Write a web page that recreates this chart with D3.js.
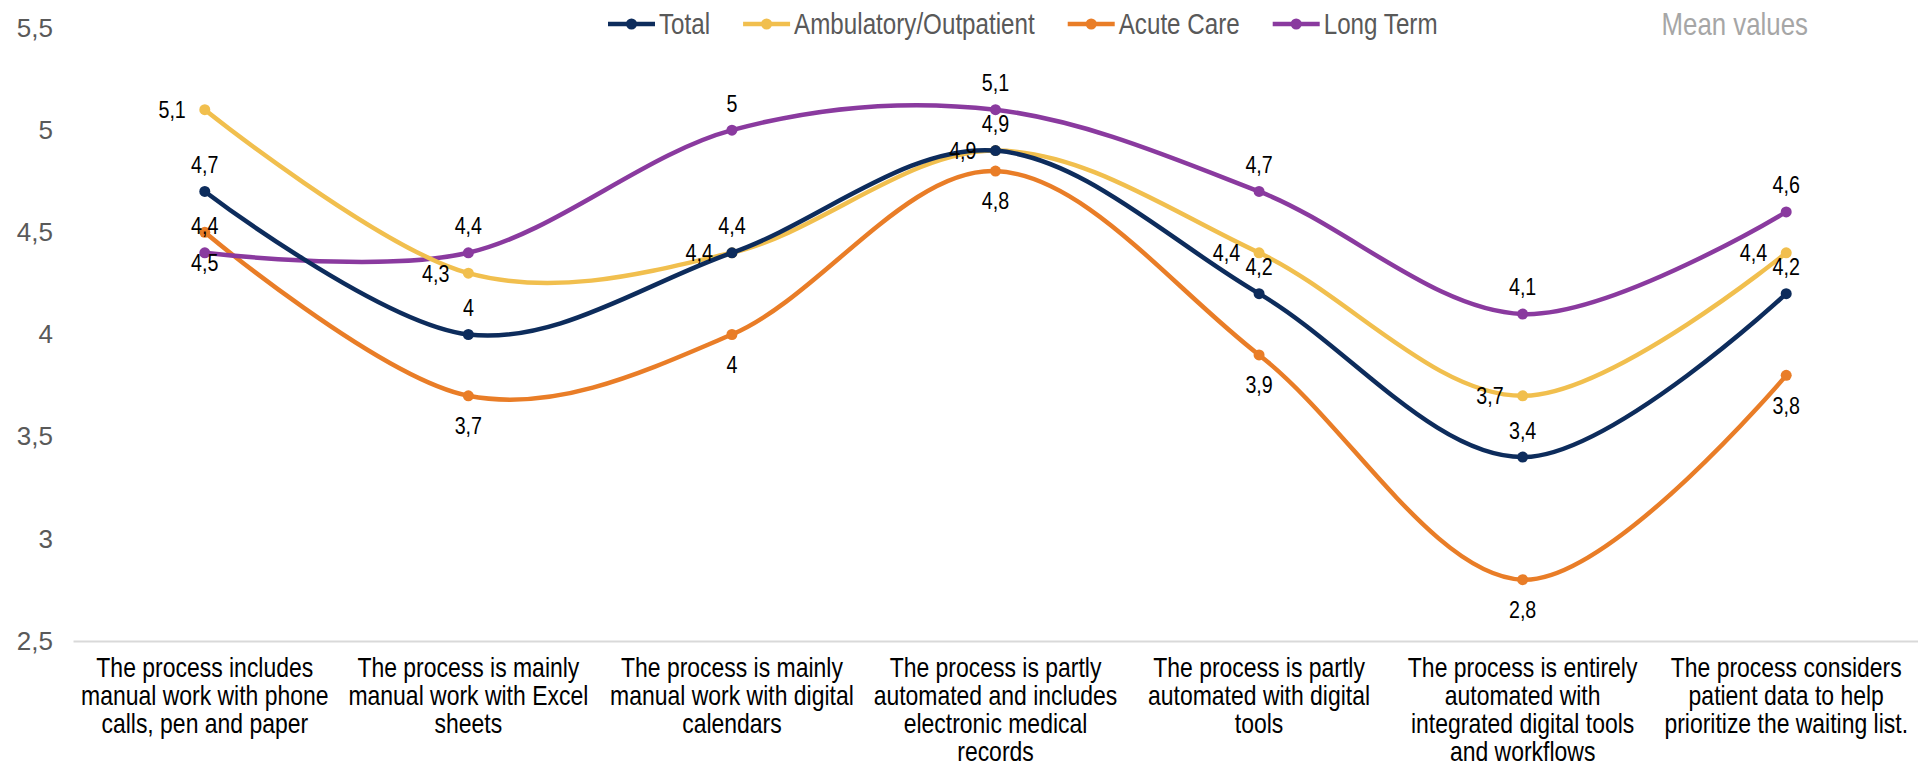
<!DOCTYPE html>
<html>
<head>
<meta charset="utf-8">
<script src="https://cdn.jsdelivr.net/npm/d3@7"></script>
<style>
    body { margin: 0; background: #fff; }
    svg { display: block; }
    text { font-family: "Liberation Sans", Arial, sans-serif; }
</style>
</head>
<body>
<div id="chart"></div>
<script>
var categories = [
    "The process includes\nmanual work with phone\ncalls, pen and paper",
    "The process is mainly\nmanual work with Excel\nsheets",
    "The process is mainly\nmanual work with digital\ncalendars",
    "The process is partly\nautomated and includes\nelectronic medical\nrecords",
    "The process is partly\nautomated with digital\ntools",
    "The process is entirely\nautomated with\nintegrated digital tools\nand workflows",
    "The process considers\npatient data to help\nprioritize the waiting list."
];

var seriesNames = ["Total", "Ambulatory/Outpatient", "Acute Care", "Long Term"];

var totalValues      = [4.7, 4.0, 4.4, 4.9, 4.2, 3.4, 4.2];
var ambulatoryValues = [5.1, 4.3, 4.4, 4.9, 4.4, 3.7, 4.4];
var acuteValues      = [4.5, 3.7, 4.0, 4.8, 3.9, 2.8, 3.8];
var longTermValues   = [4.4, 4.4, 5.0, 5.1, 4.7, 4.1, 4.6];

var yTicks = [2.5, 3, 3.5, 4, 4.5, 5, 5.5];

var seriesColors = ["#0d2c5c", "#f1bf4e", "#e97d27", "#8a3a9f"];
// where each series puts its value labels
var labelPlace = ["above", "left", "below", "above"];

var series = [totalValues, ambulatoryValues, acuteValues, longTermValues].map(function(v, i){
    return {name: seriesNames[i], values: v, color: seriesColors[i], place: labelPlace[i]};
});

var W = 1918, H = 764;
// no narrow font installed, so squeeze regular sans horizontally
var NARROW = 0.82;

var svg = d3.select("#chart").append("svg")
    .attr("width", W)
    .attr("height", H);

var x = d3.scaleBand()
    .domain(d3.range(categories.length))
    .range([73, 1918]);

var y = d3.scaleLinear()
    .domain([2.5, 5.5])
    .range([641, 28]);

var fmt = function(v){ return String(+v.toFixed(1)).replace(".", ","); };

// narrow text group placed at (px,py)
function narrowGroup(parent, px, py)
{
    return parent.append("g")
        .attr("transform", "translate(" + px + "," + py + ") scale(" + NARROW + ",1)");
}

// y axis, labels only
var yAxis = svg.append("g")
    .attr("transform", "translate(53,0)")
    .call(d3.axisLeft(y).tickValues(yTicks).tickSize(0).tickPadding(0).tickFormat(fmt));
yAxis.select(".domain").remove();
yAxis.selectAll("text")
    .attr("fill", "#595959")
    .style("font-family", "'Liberation Sans', Arial, sans-serif")
    .style("font-size", "26px");

// x axis line
var xAxis = svg.append("g")
    .attr("transform", "translate(0," + y(2.5) + ")")
    .call(d3.axisBottom(x).tickSize(0).tickFormat(""));
xAxis.select(".domain")
    .attr("stroke", "#d9d9d9")
    .attr("stroke-width", 2);

// category labels, pre-wrapped
var cx = function(i){ return x(i) + x.bandwidth() / 2; };
var catG = svg.append("g");
categories.forEach(function(d, i){
    var t = narrowGroup(catG, cx(i), 677).append("text")
        .attr("text-anchor", "middle")
        .attr("fill", "#000")
        .style("font-size", "28px");
    d.split("\n").forEach(function(line, k){
        t.append("tspan")
            .attr("x", 0)
            .attr("y", k * 28)
            .text(line);
    });
});

var line = d3.line()
    .x(function(d, i){ return cx(i); })
    .y(function(d){ return y(d); })
    .curve(d3.curveCardinal.tension(0));

var order = [2, 3, 1, 0];
order.forEach(function(si){
    var s = series[si];
    var g = svg.append("g");
    g.append("path")
        .datum(s.values)
        .attr("fill", "none")
        .attr("stroke", s.color)
        .attr("stroke-width", 4.5)
        .attr("d", line);
    g.selectAll("circle")
        .data(s.values)
        .enter().append("circle")
        .attr("cx", function(d, i){ return cx(i); })
        .attr("cy", function(d){ return y(d); })
        .attr("r", 5.5)
        .attr("fill", s.color);
});

// value labels
var labG = svg.append("g");
series.forEach(function(s){
    s.values.forEach(function(v, i){
        var px = s.place == "left" ? cx(i) - 19 : cx(i);
        var py = y(v);
        if(s.place == "above") py -= 27;
        if(s.place == "below") py += 30;
        narrowGroup(labG, px, py).append("text")
            .attr("dy", "0.35em")
            .attr("text-anchor", s.place == "left" ? "end" : "middle")
            .attr("fill", "#000")
            .style("font-size", "24px")
            .text(fmt(v));
    });
});

// legend
var legend = svg.append("g");
var lx = 608;
series.forEach(function(s){
    var item = legend.append("g").attr("transform", "translate(" + lx + ",24)");
    item.append("line")
        .attr("x1", 0).attr("x2", 47)
        .attr("stroke", s.color)
        .attr("stroke-width", 4.5);
    item.append("circle")
        .attr("cx", 23.5)
        .attr("r", 5.5)
        .attr("fill", s.color);
    var txt = narrowGroup(item, 51, 0).append("text")
        .attr("dy", "0.35em")
        .attr("fill", "#595959")
        .style("font-size", "29.5px")
        .text(s.name);
    lx += 51 + txt.node().getComputedTextLength() * NARROW + 33;
});

narrowGroup(svg, 1808, 24).append("text")
    .attr("dy", "0.35em")
    .attr("text-anchor", "end")
    .attr("fill", "#a6a6a6")
    .style("font-size", "31.5px")
    .text("Mean values");
</script>
</body>
</html>
